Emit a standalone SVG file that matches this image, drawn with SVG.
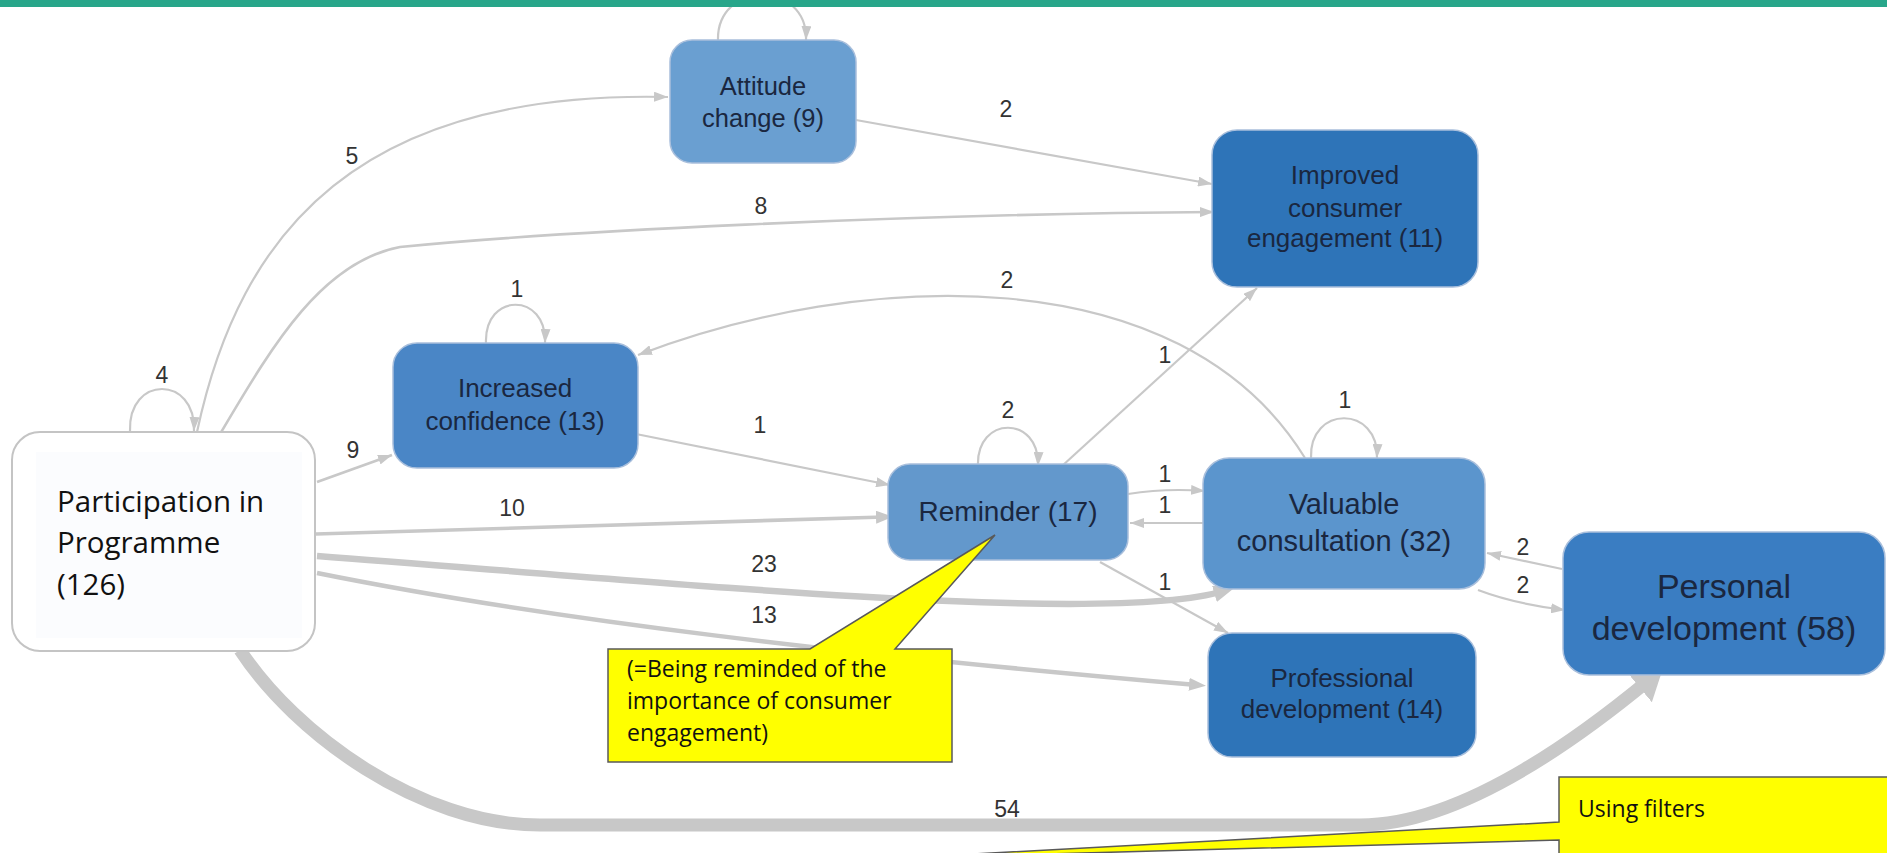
<svg xmlns="http://www.w3.org/2000/svg" width="1887" height="853" viewBox="0 0 1887 853">
<style>
.e{fill:none;stroke:#c8c8c8;stroke-width:2.2}
.n{stroke:#a9bfdc;stroke-width:1.5}
.t{font-family:"Liberation Sans",Arial,sans-serif;fill:#1a2740;text-anchor:middle}
.l{font-family:"Liberation Sans",Arial,sans-serif;font-size:23px;fill:#333;text-anchor:middle}
.c{font-family:"Open Sans","Liberation Sans",sans-serif;font-size:23px;fill:#111}
.callout{fill:#ffff00;stroke:#595959;stroke-width:1.5}
</style>
<defs>
<marker id="a1" markerUnits="userSpaceOnUse" viewBox="0 0 14 10" markerWidth="14" markerHeight="10" refX="14" refY="5" orient="auto"><path d="M0,0 L14,5 L0,10 z" fill="#c8c8c8"/></marker>
<marker id="a2" markerUnits="userSpaceOnUse" viewBox="0 0 17 13" markerWidth="17" markerHeight="13" refX="8" refY="6.5" orient="auto"><path d="M0,0 L17,6.5 L0,13 z" fill="#c8c8c8"/></marker>
<marker id="a3" markerUnits="userSpaceOnUse" viewBox="0 0 21 17" markerWidth="21" markerHeight="17" refX="10" refY="8.5" orient="auto"><path d="M0,0 L21,8.5 L0,17 z" fill="#c8c8c8"/></marker>
<marker id="a4" markerUnits="userSpaceOnUse" viewBox="0 0 30 38" markerWidth="30" markerHeight="38" refX="12" refY="19" orient="auto"><path d="M0,0 L30,19 L0,38 z" fill="#c8c8c8"/></marker>
</defs>
<rect x="0" y="0" width="1887" height="853" fill="#ffffff"/>
<g id="connectors">
<path class="e" d="M130 431 C128 375 196 375 194 431" marker-end="url(#a1)"/>
<path class="e" d="M197 432 C240 230 360 90 668 97" marker-end="url(#a1)"/>
<path class="e" style="stroke-width:2.6" d="M220 434 C270 350 320 262 400 247 C550 232 900 214 1214 212" marker-end="url(#a1)"/>
<path class="e" d="M718 41 C716 -20 808 -20 806 40" marker-end="url(#a1)"/>
<path class="e" d="M856 120 L1212 184" marker-end="url(#a1)"/>
<path class="e" d="M486 343 C484 292 547 292 545 343" marker-end="url(#a1)"/>
<path class="e" d="M1305 458 C1180 255 860 270 638 355" marker-end="url(#a1)"/>
<path class="e" style="stroke-width:2.8" d="M317 482 L392 455" marker-end="url(#a1)"/>
<path class="e" d="M636 434 L890 485" marker-end="url(#a1)"/>
<path class="e" style="stroke-width:3.6" d="M316 534 L884 517" marker-end="url(#a2)"/>
<path class="e" style="stroke-width:6.5" d="M317 556 C700 585 1110 625 1224 591" marker-end="url(#a3)"/>
<path class="e" style="stroke-width:4.5" d="M317 573 C550 620 850 655 1197 685" marker-end="url(#a2)"/>
<path class="e" d="M978 466 C976 415 1040 415 1038 466" marker-end="url(#a1)"/>
<path class="e" d="M1062 466 L1257 288" marker-end="url(#a1)"/>
<path class="e" d="M1128 494 Q1165 488 1205 491" marker-end="url(#a1)"/>
<path class="e" d="M1203 523 L1130 523" marker-end="url(#a1)"/>
<path class="e" d="M1100 562 L1228 633" marker-end="url(#a1)"/>
<path class="e" d="M1311 458 C1309 405 1379 405 1377 458" marker-end="url(#a1)"/>
<path class="e" d="M1562 569 L1487 553" marker-end="url(#a1)"/>
<path class="e" d="M1478 590 Q1515 604 1565 610" marker-end="url(#a1)"/>
<path class="e" style="stroke-width:13" d="M240 650 C295 734 420 825 540 825 L1360 825 C1470 825 1603 718 1649 680" marker-end="url(#a4)"/>
<text class="l" x="162" y="383">4</text>
<text class="l" x="352" y="164">5</text>
<text class="l" x="761" y="214">8</text>
<text class="l" x="1006" y="117">2</text>
<text class="l" x="517" y="297">1</text>
<text class="l" x="1007" y="288">2</text>
<text class="l" x="353" y="458">9</text>
<text class="l" x="760" y="433">1</text>
<text class="l" x="512" y="516">10</text>
<text class="l" x="1008" y="418">2</text>
<text class="l" x="1165" y="363">1</text>
<text class="l" x="1345" y="408">1</text>
<text class="l" x="1165" y="482">1</text>
<text class="l" x="1165" y="513">1</text>
<text class="l" x="764" y="572">23</text>
<text class="l" x="764" y="623">13</text>
<text class="l" x="1165" y="590">1</text>
<text class="l" x="1523" y="555">2</text>
<text class="l" x="1523" y="593">2</text>
<text class="l" x="1007" y="817">54</text>
</g>
<rect x="0" y="0" width="1887" height="7" fill="#28a68a"/>
<g id="participation">
<rect x="12" y="432" width="303" height="219" rx="28" fill="#ffffff" stroke="#c4c4c4" stroke-width="2"/>
<rect x="36" y="452" width="266" height="186" fill="#fbfcfe"/>
<text font-family="'Open Sans','Liberation Sans',sans-serif" font-size="29.5" fill="#111"><tspan x="57" y="512">Participation in</tspan><tspan x="57" y="553">Programme</tspan><tspan x="57" y="595">(126)</tspan></text>
</g>
<g id="attitude">
<rect class="n" x="670" y="40" width="186" height="123" rx="22" fill="#6a9fd1"/>
<text class="t" font-size="25.5"><tspan x="763" y="95">Attitude</tspan><tspan x="763" y="127">change (9)</tspan></text>
</g>
<g id="improved">
<rect class="n" x="1212" y="130" width="266" height="157" rx="25" fill="#2e74b8"/>
<text class="t" font-size="26"><tspan x="1345" y="184">Improved</tspan><tspan x="1345" y="217">consumer</tspan><tspan x="1345" y="247">engagement (11)</tspan></text>
</g>
<g id="increased">
<rect class="n" x="393" y="343" width="245" height="125" rx="24" fill="#4a86c6"/>
<text class="t" font-size="26"><tspan x="515" y="397">Increased</tspan><tspan x="515" y="430">confidence (13)</tspan></text>
</g>
<g id="reminder">
<rect class="n" x="888" y="464" width="240" height="96" rx="22" fill="#6398cc"/>
<text class="t" font-size="28" x="1008" y="521">Reminder (17)</text>
</g>
<g id="valuable">
<rect class="n" x="1203" y="458" width="282" height="131" rx="26" fill="#5b95cd"/>
<text class="t" font-size="29"><tspan x="1344" y="514">Valuable</tspan><tspan x="1344" y="551">consultation (32)</tspan></text>
</g>
<g id="personal">
<rect class="n" x="1563" y="532" width="322" height="143" rx="26" fill="#3a7dc2"/>
<text class="t" font-size="34"><tspan x="1724" y="598">Personal</tspan><tspan x="1724" y="640">development (58)</tspan></text>
</g>
<g id="professional">
<rect class="n" x="1208" y="633" width="268" height="124" rx="24" fill="#2e74b8"/>
<text class="t" font-size="26"><tspan x="1342" y="687">Professional</tspan><tspan x="1342" y="718">development (14)</tspan></text>
</g>
<g id="callout-reminder">
<path class="callout" d="M608 649 L810 649 L995 535 L895 649 L952 649 L952 762 L608 762 Z"/>
<text class="c"><tspan x="627" y="677">(=Being reminded of the</tspan><tspan x="627" y="709">importance of consumer</tspan><tspan x="627" y="741">engagement)</tspan></text>
</g>
<g id="callout-filters">
<path class="callout" d="M1559 777 L1895 777 L1895 862 L1559 862 L1559 840 L900 858 L1559 822 Z"/>
<text class="c" x="1578" y="817">Using filters</text>
</g>
</svg>
